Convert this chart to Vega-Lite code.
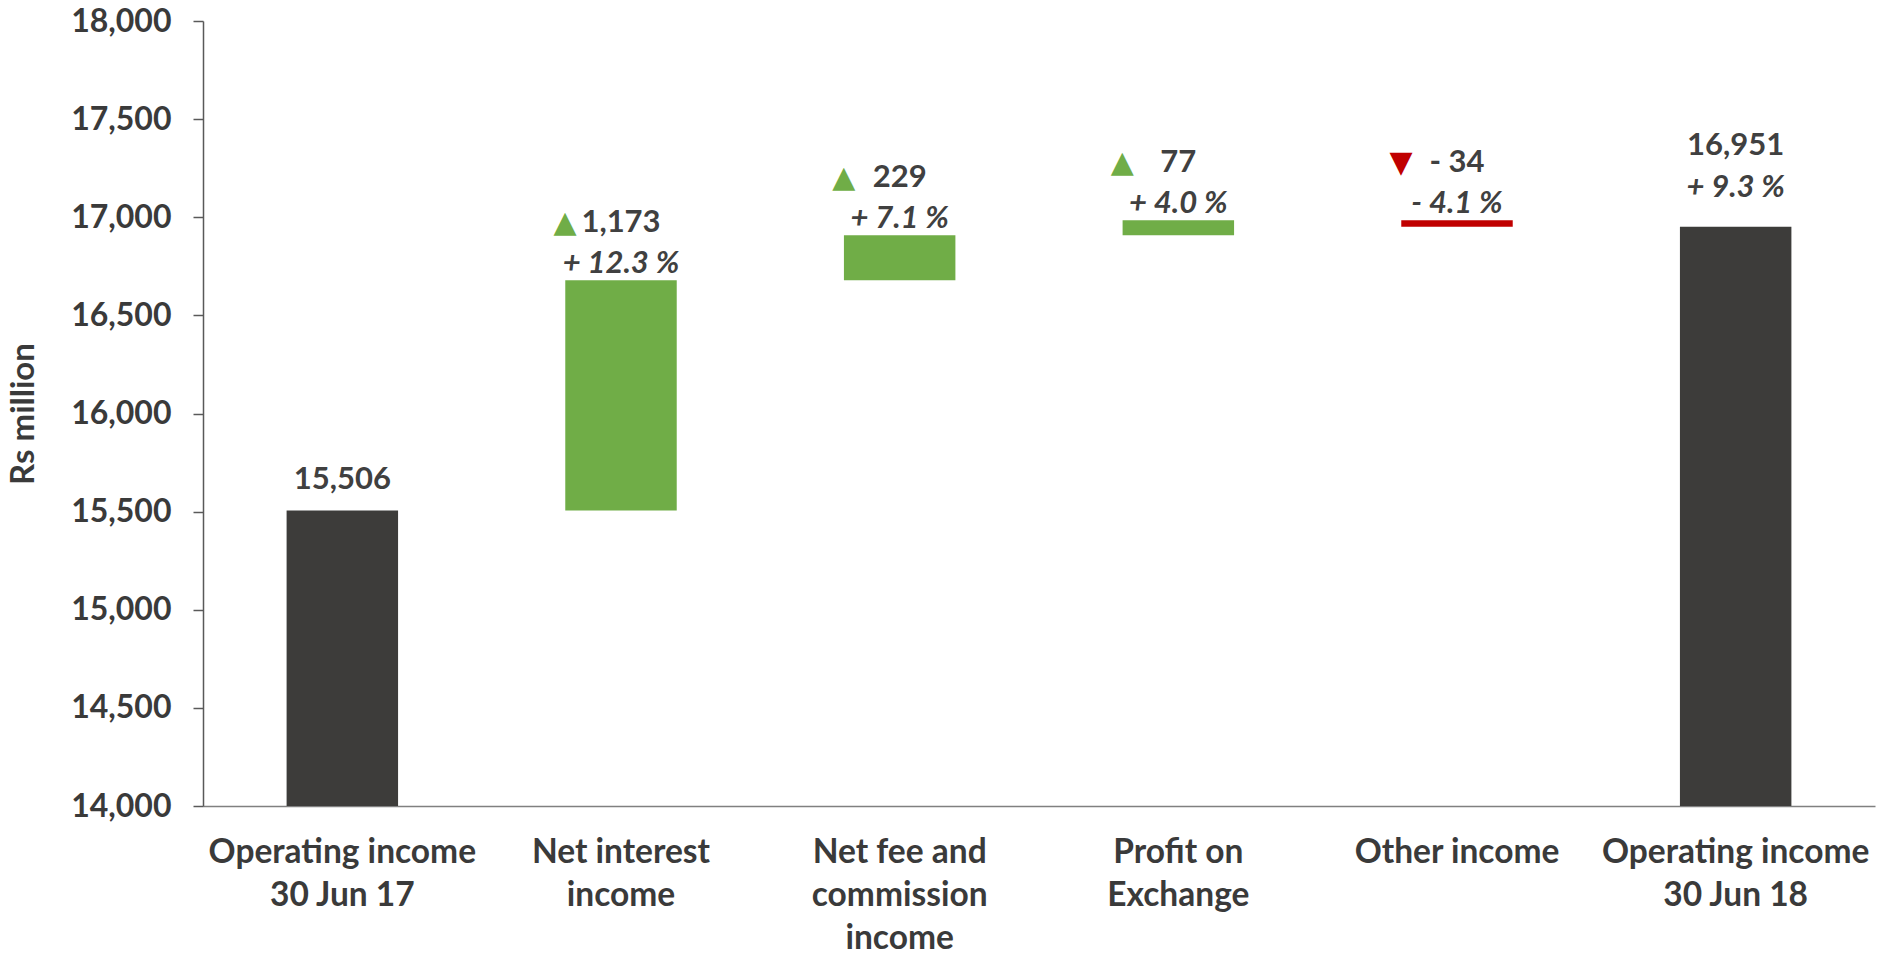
{
  "$schema": "https://vega.github.io/schema/vega-lite/v6.json",
  "autosize": {"type": "none"},
  "width": 1672,
  "height": 785,
  "padding": {"left": 203, "top": 21, "right": 2, "bottom": 151},
  "background": "#ffffff",
  "config": {
    "view": {"stroke": null},
    "font": "Lato",
    "text": {"font": "Lato", "fontWeight": "bold", "color": "#404040", "baseline": "middle", "align": "center"}
  },
  "data": {
    "values": [
      {"category": "Operating income 30 Jun 17", "start": 14000, "end": 15506, "top": 15506, "kind": "total", "amount": "15,506", "pct": null, "arrow": null},
      {"category": "Net interest income", "start": 15506, "end": 16679, "top": 16679, "kind": "up", "amount": "1,173", "pct": "+ 12.3 %", "arrow": "▲"},
      {"category": "Net fee and commission income", "start": 16679, "end": 16908, "top": 16908, "kind": "up", "amount": "229", "pct": "+ 7.1 %", "arrow": "▲"},
      {"category": "Profit on Exchange", "start": 16908, "end": 16985, "top": 16985, "kind": "up", "amount": "77", "pct": "+ 4.0 %", "arrow": "▲"},
      {"category": "Other income", "start": 16985, "end": 16951, "top": 16985, "kind": "down", "amount": "- 34", "pct": "- 4.1 %", "arrow": "▼"},
      {"category": "Operating income 30 Jun 18", "start": 14000, "end": 16951, "top": 16951, "kind": "total", "amount": "16,951", "pct": "+ 9.3 %", "arrow": null}
    ]
  },
  "encoding": {
    "x": {
      "field": "category", "type": "nominal", "sort": null,
      "scale": {"paddingInner": 0.6, "paddingOuter": 0.3},
      "axis": {
        "title": null, "labelAngle": 0, "ticks": false, "labelLimit": 0,
        "domainColor": "#808080", "domainWidth": 1.5,
        "labelFont": "Lato", "labelFontWeight": "bold", "labelFontSize": 33.5, "labelColor": "#3a3a3a",
        "labelLineHeight": 43, "labelPadding": 30, "labelBaseline": "top",
        "labelExpr": "datum.label == 'Operating income 30 Jun 17' ? ['Operating income', '30 Jun 17'] : datum.label == 'Net interest income' ? ['Net interest', 'income'] : datum.label == 'Net fee and commission income' ? ['Net fee and', 'commission', 'income'] : datum.label == 'Profit on Exchange' ? ['Profit on', 'Exchange'] : datum.label == 'Operating income 30 Jun 18' ? ['Operating income', '30 Jun 18'] : datum.label"
      }
    }
  },
  "layer": [
    {
      "mark": {"type": "bar"},
      "encoding": {
        "y": {
          "field": "start", "type": "quantitative",
          "scale": {"domain": [14000, 18000], "nice": false, "zero": false},
          "axis": {
            "title": "Rs million", "values": [14000, 14500, 15000, 15500, 16000, 16500, 17000, 17500, 18000],
            "format": ",d", "grid": false,
            "domainColor": "#595959", "domainWidth": 1.5, "tickColor": "#595959", "tickWidth": 1.5, "tickSize": 10,
            "labelFont": "Lato", "labelFontWeight": "bold", "labelFontSize": 32, "labelColor": "#3a3a3a", "labelPadding": 22,
            "titleFont": "Lato", "titleFontWeight": "bold", "titleFontSize": 33, "titleColor": "#3a3a3a", "titlePadding": 30
          }
        },
        "y2": {"field": "end"},
        "color": {
          "field": "kind", "type": "nominal",
          "scale": {"domain": ["total", "up", "down"], "range": ["#3d3c3a", "#70ad47", "#c00000"]},
          "legend": null
        }
      }
    },
    {
      "transform": [{"filter": "datum.kind != 'total'"}],
      "mark": {"type": "text", "fontSize": 31, "dy": -57},
      "encoding": {"y": {"field": "top", "type": "quantitative"}, "text": {"field": "amount"}}
    },
    {
      "transform": [{"filter": "datum.kind != 'total'"}],
      "mark": {"type": "text", "fontSize": 31, "fontStyle": "italic", "dy": -16},
      "encoding": {"y": {"field": "top", "type": "quantitative"}, "text": {"field": "pct"}}
    },
    {
      "transform": [{"filter": "datum.kind != 'total'"}],
      "mark": {"type": "text", "font": "DejaVu Sans", "fontWeight": "normal", "fontSize": 30, "dy": -57, "dx": -56},
      "encoding": {
        "y": {"field": "top", "type": "quantitative"},
        "text": {"field": "arrow"},
        "color": {"field": "kind", "type": "nominal", "scale": {"domain": ["total", "up", "down"], "range": ["#3d3c3a", "#70ad47", "#c00000"]}, "legend": null}
      }
    },
    {
      "transform": [{"filter": "datum.kind == 'total' && datum.pct == null"}],
      "mark": {"type": "text", "fontSize": 31, "dy": -30},
      "encoding": {"y": {"field": "top", "type": "quantitative"}, "text": {"field": "amount"}}
    },
    {
      "transform": [{"filter": "datum.kind == 'total' && datum.pct != null"}],
      "mark": {"type": "text", "fontSize": 31, "dy": -81},
      "encoding": {"y": {"field": "top", "type": "quantitative"}, "text": {"field": "amount"}}
    },
    {
      "transform": [{"filter": "datum.kind == 'total' && datum.pct != null"}],
      "mark": {"type": "text", "fontSize": 31, "fontStyle": "italic", "dy": -39},
      "encoding": {"y": {"field": "top", "type": "quantitative"}, "text": {"field": "pct"}}
    }
  ]
}
